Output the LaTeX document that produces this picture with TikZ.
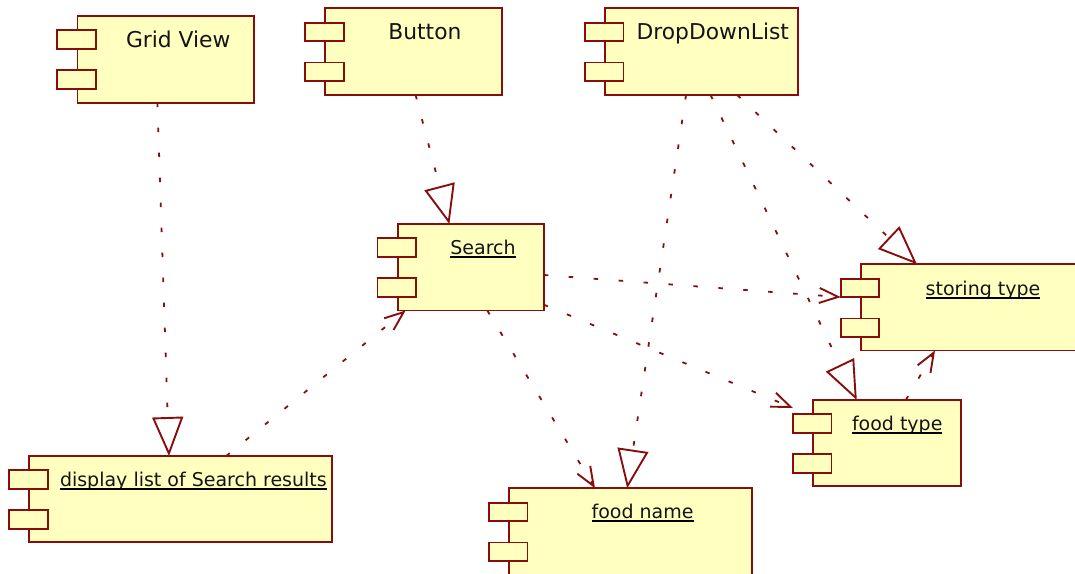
\documentclass[tikz,border=0pt]{standalone}
\usepackage{fontspec}
\usetikzlibrary{arrows.meta}
\newfontfamily\labfont{DejaVu Sans}
\definecolor{dred}{RGB}{136,14,14}
\definecolor{cyel}{RGB}{255,255,192}
\definecolor{ltxt}{RGB}{20,20,20}
\tikzset{
  body/.style={draw=dred, fill=cyel, line width=1.9pt, inner sep=0pt, outer sep=0pt, anchor=north west},
  tab/.style={draw=dred, fill=cyel, line width=1.9pt, inner sep=0pt, outer sep=0pt, minimum width=38.5pt, minimum height=18.4pt, anchor=north west},
  plainlab/.style={inner sep=0pt, outer sep=0pt, anchor=base west, text=ltxt, font=\labfont\fontsize{21.8}{26}\selectfont},
  ullab/.style={inner sep=0pt, outer sep=0pt, anchor=base west, text=ltxt, font=\labfont\fontsize{19}{23}\selectfont},
  uline/.style={line width=1.8pt, black},
  conn/.style={draw=dred, line width=1.8pt, dash pattern=on 4.5pt off 20.5pt},
  gen/.style={conn, -{Triangle[open, length=39pt, width=31pt, line width=1.9pt]}},
  dep/.style={conn, -{Straight Barb[length=19pt, width=15pt, line width=1.9pt]}}
}
\newcommand{\umlcomp}[5]{%
  \node[body, minimum width=#4pt, minimum height=#5pt] (#1) at (#2,#3) {};
  \node[tab] (#1-t1) at ([xshift=-20.2pt,yshift=-14.4pt]#1.north west) {};
  \node[tab] (#1-t2) at ([xshift=-20.2pt,yshift=-54.2pt]#1.north west) {};
}
\begin{document}
\begin{tikzpicture}[x=1pt,y=-1pt]
\useasboundingbox (0,0) rectangle (1075,573);
\clip (0,0) rectangle (1075,573);
% components
\umlcomp{gv}{77.5}{16}{176.3}{86.7}
\umlcomp{btn}{325.4}{8.3}{176.3}{86.7}
\umlcomp{ddl}{605.2}{8.3}{192.4}{86.7}
\umlcomp{srch}{397.7}{224}{146.1}{86.5}
\umlcomp{st}{861}{264.3}{240}{86.2}
\umlcomp{ft}{813.2}{400}{148}{86}
\umlcomp{dl}{29.3}{456}{302.3}{86.3}
\umlcomp{fn}{509.2}{488.3}{242.5}{86.5}
% labels
\node[plainlab] (gv-l) at (126,47.7) {Grid View};
\node[plainlab] (btn-l) at (388.4,39.3) {Button};
\node[plainlab] (ddl-l) at (636.6,39.3) {DropDownList};
\node[ullab] (srch-l) at (450.4,254) {Search};
\node[ullab] (st-l) at (925.7,295) {storing type};
\node[ullab] (ft-l) at (852,430.5) {food type};
\node[ullab] (fn-l) at (591.6,518.3) {food name};
\node[ullab] (dl-l) at (60,486.3) {display list of Search results};
\foreach \n in {srch-l,st-l,ft-l,fn-l,dl-l}{
  \draw[uline] ([yshift=-2.7pt]\n.base west) -- ([yshift=-2.7pt]\n.base east);
}
% generalizations
\draw[gen] ([xshift=79.9pt]gv.south west) -- ([xshift=139.7pt]dl.north west);
\draw[gen] ([xshift=90.2pt]btn.south west) -- ([xshift=51.7pt]srch.north west);
\draw[gen] ([xshift=132pt]ddl.south west) -- ([xshift=56pt]st.north west);
\draw[gen] ([xshift=105.4pt]ddl.south west) -- ([xshift=43.6pt]ft.north west);
\draw[gen] ([xshift=80.8pt]ddl.south west) -- ([xshift=118pt]fn.north west);
% dependencies
\draw[dep] ([yshift=-51pt]srch.north east) -- (st-t1.south west);
\draw[dep] ([yshift=-80.7pt]srch.north east) -- ([yshift=6.4pt]ft-t1.north west);
\draw[dep] ([xshift=89.6pt]srch.south west) -- ([xshift=85.8pt]fn.north west);
\draw[dep] ([xshift=196.9pt]dl.north west) -- ([xshift=7.9pt]srch.south west);
\draw[dep] ([xshift=92.6pt]ft.north west) -- ([xshift=74pt]st.south west);
\end{tikzpicture}
\end{document}
